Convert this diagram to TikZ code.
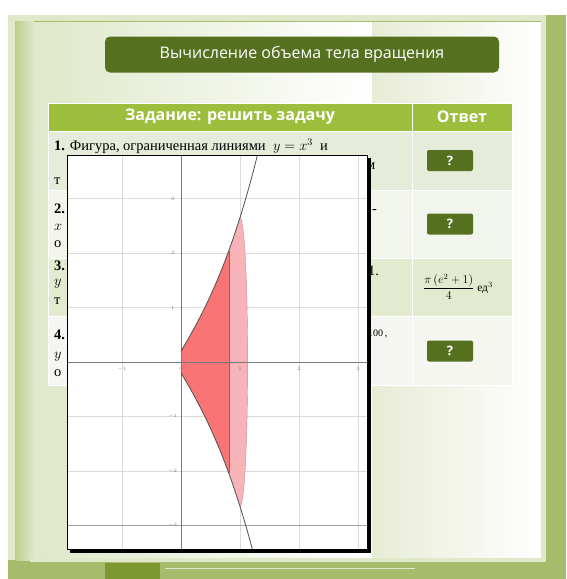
\documentclass[tikz,border=0pt]{standalone}
\usepackage{amsmath}
\usepackage{fontspec}
\setmainfont{Liberation Serif}
\setsansfont{Open Sans}
\usepackage{tikz}
\usetikzlibrary{positioning, calc}
\definecolor{frameGreen}{HTML}{A6BB6C}
\definecolor{edgeGreen}{HTML}{BACE90}
\definecolor{panelTint}{HTML}{DFE8C9}
\definecolor{panelCream}{HTML}{E7ECD6}
\definecolor{barOlive}{HTML}{55701F}
\definecolor{headGreen}{HTML}{9CBE3C}
\definecolor{rowA}{HTML}{E6ECDA}
\definecolor{rowB}{HTML}{F2F5EC}
\definecolor{rowC}{HTML}{E2EACF}
\definecolor{rowD}{HTML}{F4F6EF}
\definecolor{gridGray}{HTML}{DADADA}
\definecolor{axisGray}{HTML}{7A7A7A}
\definecolor{solidRed}{HTML}{F97474}
\definecolor{capPink}{HTML}{F8B3B9}
\definecolor{curveGray}{HTML}{505050}

\begin{document}
\begin{tikzpicture}[x=1pt, y=-1pt,
    declare function={prof(\t)=0.2+1.8*\t+0.3*\t*\t+0.35*\t*\t*\t;},
    titleBar/.style={rectangle, rounded corners=5pt, fill=barOlive, text=white, minimum width=394pt, minimum height=36pt, font=\sffamily\fontsize{16}{18}\selectfont},
    headCell/.style={rectangle, fill=headGreen, draw=white, line width=1pt, text=white, minimum height=28pt, font=\sffamily\bfseries\fontsize{16}{18}\selectfont},
    taskCell/.style={rectangle, draw=white, line width=1pt, minimum width=364pt},
    answerCell/.style={rectangle, draw=white, line width=1pt, minimum width=100pt},
    qButton/.style={rectangle, rounded corners=2pt, fill=barOlive, text=white, minimum width=46pt, minimum height=21pt, inner sep=0pt, font=\sffamily\bfseries\fontsize{13}{13}\selectfont},
    rowText/.style={anchor=west, inner sep=0pt, font=\fontsize{14.5}{16}\selectfont},
    tickText/.style={text=axisGray, inner sep=0pt, font=\fontsize{4.5}{5}\selectfont}]

    \fill[white] (0,0) rectangle (566,579);
    \fill[frameGreen] (8,15) rectangle (566,579);
    \fill[panelTint] (8,15) rectangle (15,560);
    \shade[left color=edgeGreen, right color=panelTint] (15,18) rectangle (34,560);
    \shade[left color=panelTint, right color=white] (34,22) rectangle (372,558);
    \shade[left color=panelCream, right color=white] (372,22) rectangle (541,558);
    \fill[panelTint] (8,15) rectangle (546,21);
    \fill[panelTint] (541,21) rectangle (546,562);
    \fill[panelTint] (30,558) rectangle (546,562);
    \fill[headGreen!80!black] (105,563) rectangle (160,579);
    \draw[panelTint, line width=1pt] (165,568) -- (415,568);

    \node[titleBar] (title) at (302,54.5) {Вычисление объема тела вращения};

    \node[headCell, minimum width=364pt] (hdTask) at (230,117) {Задание: решить задачу};
    \node[headCell, minimum width=100pt] (hdAnswer) at (462,117) {Ответ};

    \node[taskCell, fill=rowA, minimum height=59pt] (task1) at (230,160.5) {};
    \node[answerCell, fill=rowA, minimum height=59pt] (answer1) at (462,160.5) {};
    \node[taskCell, fill=rowB, minimum height=68pt] (task2) at (230,224) {};
    \node[answerCell, fill=rowB, minimum height=68pt] (answer2) at (462,224) {};
    \node[taskCell, fill=rowC, minimum height=58pt] (task3) at (230,287) {};
    \node[answerCell, fill=rowC, minimum height=58pt] (answer3) at (462,287) {};
    \node[taskCell, fill=rowD, minimum height=69pt] (task4) at (230,350.5) {};
    \node[answerCell, fill=rowD, minimum height=69pt] (answer4) at (462,350.5) {};

    \node[qButton] (q1) at (450,160.5) {?};
    \node[qButton] (q2) at (450,224) {?};
    \node[qButton] (q4) at (450,351) {?};
    \node[inner sep=0pt, font=\fontsize{11.5}{12}\selectfont] (a3) at (458,287) {$\dfrac{\pi\left(e^2+1\right)}{4}$ ед$^3$};

    \node[rowText] (line1) at (54,146) {\textbf{1.} Фигура, ограниченная линиями \ $y=x^3$ \ и};
    \node[rowText] (frag1) at (54,181) {т};
    \node[rowText] (frag2) at (54,209) {\textbf{2.}};
    \node[rowText] (frag3) at (54,227) {$x$};
    \node[rowText] (frag4) at (54,244) {о};
    \node[rowText] (frag5) at (54,266) {\textbf{3.}};
    \node[rowText] (frag6) at (54,284) {$y$};
    \node[rowText] (frag7) at (54,301) {т};
    \node[rowText] (frag8) at (54,335) {\textbf{4.}};
    \node[rowText] (frag9) at (54,357) {$y$};
    \node[rowText] (frag10) at (54,373) {о};
    \node[rowText] (frag11) at (366,166) {м};
    \node[rowText] (frag12) at (372,212) {-};
    \node[rowText] (frag13) at (368,271) {1.};
    \node[rowText] (frag14) at (368,334) {\fontsize{10}{10}\selectfont 100\,,};

    \fill[black] (70,158) rectangle (371,553);
    \fill[white] (67,155) rectangle (367,549);
    \begin{scope}
        \clip (67,155) rectangle (367,549);
        \begin{scope}[shift={(181,362)}, x=59pt, y=54.5pt]
            \foreach \i in {-2,-1,1,2,3}
                \draw[gridGray, line width=0.7pt] (\i,-4) -- (\i,4);
            \foreach \j in {-2,-1,1,2,3}
                \draw[gridGray, line width=0.7pt] (-2,\j) -- (4,\j);
            \draw[axisGray!70, line width=0.7pt] (-2,-3) -- (4,-3);
            \fill[solidRed] plot[domain=0:0.81, samples=30] (\x,{prof(\x)}) -- plot[domain=0.81:0, samples=30] (\x,{-prof(\x)}) -- cycle;
            \fill[capPink] plot[domain=0.81:1, samples=15] (\x,{prof(\x)}) -- plot[domain=90:-90, samples=40] ({1+0.13*cos(\x)},{prof(1)*sin(\x)}) -- plot[domain=1:0.81, samples=15] (\x,{-prof(\x)}) -- cycle;
            \draw[solidRed!70!black, line width=0.5pt] (0.81,{prof(0.81)}) -- (0.81,{-prof(0.81)});
            \draw[capPink!80!black, line width=0.4pt] plot[domain=90:-90, samples=40] ({1+0.13*cos(\x)},{prof(1)*sin(\x)});
            \draw[axisGray, line width=0.8pt] (-2,0) -- (4,0);
            \draw[axisGray, line width=0.8pt] (0,-4) -- (0,4);
            \draw[curveGray, line width=0.8pt] plot[domain=0:1.35, samples=50] (\x,{prof(\x)});
            \draw[curveGray, line width=0.8pt] plot[domain=0:1.35, samples=50] (\x,{-prof(\x)});
            \foreach \i in {-1,0,1,2,3}
                \node[tickText] (xt\i) at (\i,-0.13) {$\i$};
            \foreach \j in {-3,-2,-1,1,2,3}
                \node[tickText] (yt\j) at (-0.14,\j) {$\j$};
        \end{scope}
    \end{scope}
    \draw[black, line width=0.8pt] (67,155) rectangle (367,549);
\end{tikzpicture}
\end{document}
